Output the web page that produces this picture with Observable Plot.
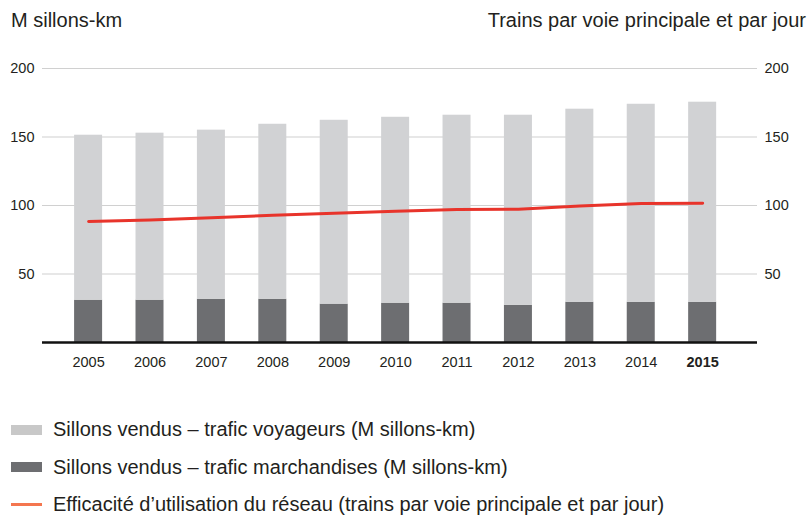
<!DOCTYPE html>
<html>
<head>
<meta charset="utf-8">
<script src="https://cdn.jsdelivr.net/npm/d3@7"></script>
<script src="https://cdn.jsdelivr.net/npm/@observablehq/plot@0.6"></script>
<style>
  html, body { margin: 0; padding: 0; background: #fff; }
  body { width: 809px; height: 516px; font-family: "Liberation Sans", Arial, sans-serif; color: #231f20; position: relative; overflow: hidden; }
  #header { position: relative; height: 40px; }
  #header span { position: absolute; top: 8.5px; font-size: 20px; white-space: nowrap; }
  #lt { left: 11px; }
  #rt { right: 3px; }
  #legend { position: absolute; left: 0; top: 411px; }
  .row { display: flex; align-items: center; height: 37.5px; font-size: 20px; }
  .sw { width: 31px; margin-left: 11px; margin-right: 11px; }
</style>
</head>
<body>
<div id="header"><span id="lt">M sillons-km</span><span id="rt">Trains par voie principale et par jour</span></div>
<div id="chart"></div>
<div id="legend"></div>
<script>
const years = ["2005","2006","2007","2008","2009","2010","2011","2012","2013","2014","2015"];
const freight = [30.9, 30.9, 31.6, 31.6, 28.0, 28.7, 28.7, 27.2, 29.4, 29.4, 29.4];
const passenger = [120.4, 121.9, 123.4, 127.7, 134.2, 135.7, 137.2, 138.7, 140.9, 144.5, 146.0];
const efficiency = [88.3, 89.5, 91.0, 92.9, 94.4, 95.8, 97.0, 97.3, 99.7, 101.4, 101.7];
const yTicks = [50, 100, 150, 200];
const seriesNames = [
  "Sillons vendus – trafic voyageurs (M sillons-km)",
  "Sillons vendus – trafic marchandises (M sillons-km)",
  "Efficacité d’utilisation du réseau (trains par voie principale et par jour)"
];
const colors = { passenger: "#d1d2d4", freight: "#6d6e71", line: "#e8342b" };
const legendColors = ["#c8c8c8", "#6d6e71", "#f4764f"];

const bars = [];
years.forEach((y, i) => {
  bars.push({ year: y, series: "freight", value: freight[i], order: 0 });
  bars.push({ year: y, series: "passenger", value: passenger[i], order: 1 });
});
const lineData = years.map((y, i) => ({ year: y, value: efficiency[i] }));

const plot = Plot.plot({
  width: 809,
  height: 340,
  marginTop: 28,
  marginBottom: 38,
  marginLeft: 42,
  marginRight: 52,
  style: { fontFamily: "Liberation Sans, Arial, sans-serif", fontSize: "14.5px", color: "#231f20", background: "#fff" },
  x: { domain: years, paddingInner: 0.544, paddingOuter: 0.594, align: 0.44, round: false, label: null },
  y: { domain: [0, 200], label: null },
  marks: [
    Plot.ruleY(yTicks, { stroke: "#d0d0d0", strokeWidth: 1.2 }),
    Plot.barY(bars, Plot.stackY({ x: "year", y: "value", order: "order", fill: d => colors[d.series] })),
    Plot.line(lineData, { x: "year", y: "value", stroke: colors.line, strokeWidth: 3 }),
    Plot.ruleY([0], { stroke: "#111", strokeWidth: 2.6 }),
    Plot.axisY({ anchor: "left", ticks: yTicks, tickSize: 0, tickPadding: 8, label: null }),
    Plot.axisY({ anchor: "right", ticks: yTicks, tickSize: 0, tickPadding: 7, label: null }),
    Plot.axisX({ ticks: years.slice(0, -1), tickSize: 0, tickPadding: 14, label: null }),
    Plot.axisX({ ticks: years.slice(-1), tickSize: 0, tickPadding: 14, label: null, fontWeight: "bold" })
  ]
});
document.getElementById("chart").appendChild(plot);

const legend = document.getElementById("legend");
seriesNames.forEach((name, i) => {
  const row = document.createElement("div");
  row.className = "row";
  const sw = document.createElement("div");
  sw.className = "sw";
  sw.style.height = i === 2 ? "3px" : "10px";
  sw.style.background = legendColors[i];
  const t = document.createElement("span");
  t.textContent = name;
  row.appendChild(sw);
  row.appendChild(t);
  legend.appendChild(row);
});
</script>
</body>
</html>
